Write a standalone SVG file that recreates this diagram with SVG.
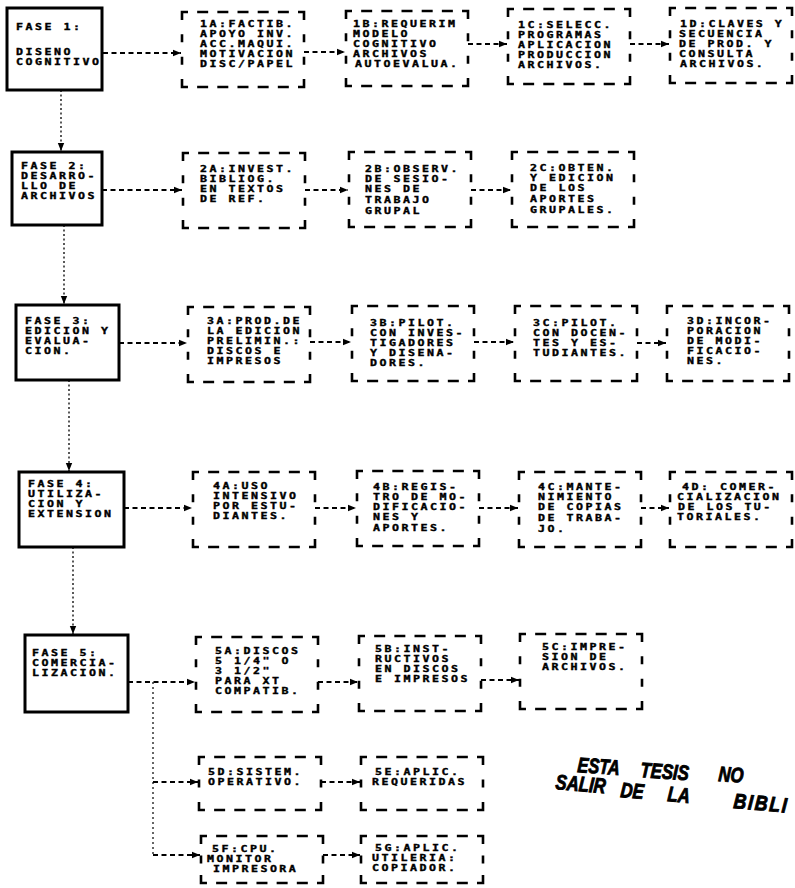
<svg xmlns="http://www.w3.org/2000/svg" width="795" height="888" viewBox="0 0 795 888">
<defs>
<style>
.ph{fill:#fff;stroke:#000;stroke-width:3}
.db{fill:none;stroke:#000;stroke-width:2.6}
.h75{stroke-dasharray:6 9.17 11 9.17 11 9.17 11 9.17 11 9.17 11 9.17 14 14.33 8 14.33 8 14.33 14 9.17 11 9.17 11 9.17 11 9.17 11 9.17 11 9.17 14 14.33 8 14.33 8 14.33 8}
.h53{stroke-dasharray:6 9.17 11 9.17 11 9.17 11 9.17 11 9.17 11 9.17 14 14.5 8 14.5 14 9.17 11 9.17 11 9.17 11 9.17 11 9.17 11 9.17 14 14.5 8 14.5 8}
.h47{stroke-dasharray:6 9.17 11 9.17 11 9.17 11 9.17 11 9.17 11 9.17 14 11.5 8 11.5 14 9.17 11 9.17 11 9.17 11 9.17 11 9.17 11 9.17 14 11.5 8 11.5 8}
.t{font-family:"DejaVu Sans Mono","Liberation Mono",monospace;font-weight:bold;font-size:8.6px;letter-spacing:1.86px;fill:#000;stroke:#000;stroke-width:0.35}
.da{fill:none;stroke:#000;stroke-width:1.8;stroke-dasharray:5 3.5;marker-end:url(#ah)}
.dv{fill:none;stroke:#000;stroke-width:1.3;stroke-dasharray:2 2.5;marker-end:url(#ah)}
.dl{fill:none;stroke:#000;stroke-width:1.2;stroke-dasharray:2 3}
.st{font-family:"Liberation Sans",Arial,sans-serif;font-weight:bold;font-style:italic;font-size:21px;fill:#000;stroke:#000;stroke-width:0.9}
</style>
<marker id="ah" viewBox="0 0 10 10" refX="10" refY="5" markerWidth="8" markerHeight="8" markerUnits="userSpaceOnUse" orient="auto"><path d="M0,1 L10,5 L0,9 z" fill="#000"/></marker>
</defs>
<rect width="795" height="888" fill="#fff"/>

<g id="connectors">
<path class="dv" d="M61,90 V151"/>
<path class="dv" d="M64,225 V304"/>
<path class="dv" d="M69,380 V471"/>
<path class="dv" d="M73,547 V634"/>
<path class="da" d="M103,53 H181"/>
<path class="da" d="M304,52 H345"/>
<path class="da" d="M468,44 H507"/>
<path class="da" d="M630,44 H669"/>
<path class="da" d="M102,190 H182"/>
<path class="da" d="M305,190 H348"/>
<path class="da" d="M471,190 H511"/>
<path class="da" d="M119,343 H187"/>
<path class="da" d="M310,342 H351"/>
<path class="da" d="M474,342 H514"/>
<path class="da" d="M637,343 H666"/>
<path class="da" d="M124,508 H192"/>
<path class="da" d="M315,508 H356"/>
<path class="da" d="M479,508 H518"/>
<path class="da" d="M641,508 H669"/>
<path class="da" d="M128,682 H195"/>
<path class="da" d="M318,682 H358"/>
<path class="da" d="M481,680 H519"/>
<path class="dl" d="M153,682 V855"/>
<path class="da" d="M153,782 H198"/>
<path class="da" d="M321,782 H360"/>
<path class="da" d="M153,855 H200"/>
<path class="da" d="M323,855 H360"/>
</g>

<g id="fase1"><rect class="ph" x="7" y="8" width="95" height="82"/>
<g transform="translate(16,0) scale(1.35,1)"><text class="t"><tspan x="0" y="30">FASE 1:</tspan><tspan x="0" y="55">DISENO</tspan><tspan x="0" y="65">COGNITIVO</tspan></text></g></g>
<g id="n1a"><rect class="db h75" x="182" y="12" width="122" height="75"/>
<g transform="translate(200,0) scale(1.35,1)"><text class="t"><tspan x="0" y="27">1A:FACTIB.</tspan><tspan x="0" y="37">APOYO INV.</tspan><tspan x="0" y="47">ACC.MAQUI.</tspan><tspan x="0" y="57">MOTIVACION</tspan><tspan x="0" y="67">DISC/PAPEL</tspan></text></g></g>
<g id="n1b"><rect class="db h75" x="346" y="11" width="122" height="75"/>
<g transform="translate(353,0) scale(1.35,1)"><text class="t"><tspan x="0" y="27">1B:REQUERIM</tspan><tspan x="0" y="37">MODELO</tspan><tspan x="0" y="47">COGNITIVO</tspan><tspan x="0" y="57">ARCHIVOS</tspan><tspan x="1.5" y="67">AUTOEVALUA.</tspan></text></g></g>
<g id="n1c"><rect class="db h75" x="508" y="9" width="122" height="75"/>
<g transform="translate(518,0) scale(1.35,1)"><text class="t"><tspan x="0" y="28">1C:SELECC.</tspan><tspan x="0" y="38">PROGRAMAS</tspan><tspan x="0" y="48">APLICACION</tspan><tspan x="0" y="58">PRODUCCION</tspan><tspan x="0" y="68">ARCHIVOS.</tspan></text></g></g>
<g id="n1d"><rect class="db h75" x="670" y="8" width="122" height="75"/>
<g transform="translate(679,0) scale(1.35,1)"><text class="t"><tspan x="0.7" y="27">1D:CLAVES Y</tspan><tspan x="0" y="37">SECUENCIA</tspan><tspan x="0" y="47">DE PROD. Y</tspan><tspan x="0" y="57">CONSULTA</tspan><tspan x="0.7" y="67">ARCHIVOS.</tspan></text></g></g>

<g id="fase2"><rect class="ph" x="12" y="152" width="90" height="73"/>
<g transform="translate(21,0) scale(1.35,1)"><text class="t"><tspan x="0" y="169">FASE 2:</tspan><tspan x="0" y="179">DESARRO-</tspan><tspan x="0" y="189">LLO DE</tspan><tspan x="0" y="199">ARCHIVOS</tspan></text></g></g>
<g id="n2a"><rect class="db h75" x="183" y="153" width="122" height="75"/>
<g transform="translate(200,0) scale(1.35,1)"><text class="t"><tspan x="0" y="172">2A:INVEST.</tspan><tspan x="0" y="182">BIBLIOG.</tspan><tspan x="0" y="192">EN TEXTOS</tspan><tspan x="0" y="202">DE REF.</tspan></text></g></g>
<g id="n2b"><rect class="db h75" x="349" y="152" width="122" height="75"/>
<g transform="translate(365,0) scale(1.35,1)"><text class="t"><tspan x="0" y="172">2B:OBSERV.</tspan><tspan x="0" y="182">DE SESIO-</tspan><tspan x="0" y="192.5">NES DE</tspan><tspan x="0" y="203.5">TRABAJO</tspan><tspan x="0" y="214">GRUPAL</tspan></text></g></g>
<g id="n2c"><rect class="db h75" x="512" y="152" width="122" height="75"/>
<g transform="translate(530,0) scale(1.35,1)"><text class="t"><tspan x="0" y="171">2C:OBTEN.</tspan><tspan x="0" y="181">Y EDICION</tspan><tspan x="0" y="191.5">DE LOS</tspan><tspan x="0" y="202">APORTES</tspan><tspan x="0" y="213">GRUPALES.</tspan></text></g></g>

<g id="fase3"><rect class="ph" x="16" y="305" width="103" height="75"/>
<g transform="translate(25,0) scale(1.35,1)"><text class="t"><tspan x="0" y="324">FASE 3:</tspan><tspan x="0" y="334">EDICION Y</tspan><tspan x="0" y="344">EVALUA-</tspan><tspan x="0" y="354">CION.</tspan></text></g></g>
<g id="n3a"><rect class="db h75" x="188" y="307" width="122" height="75"/>
<g transform="translate(207,0) scale(1.35,1)"><text class="t"><tspan x="0" y="324">3A:PROD.DE</tspan><tspan x="0" y="334">LA EDICION</tspan><tspan x="0" y="344">PRELIMIN.:</tspan><tspan x="0" y="354">DISCOS E</tspan><tspan x="0" y="364">IMPRESOS</tspan></text></g></g>
<g id="n3b"><rect class="db h75" x="352" y="306" width="122" height="75"/>
<g transform="translate(370,0) scale(1.35,1)"><text class="t"><tspan x="0" y="326">3B:PILOT.</tspan><tspan x="0" y="336">CON INVES-</tspan><tspan x="0" y="346">TIGADORES</tspan><tspan x="0" y="356">Y DISENA-</tspan><tspan x="0" y="366.5">DORES.</tspan></text></g></g>
<g id="n3c"><rect class="db h75" x="515" y="306" width="122" height="75"/>
<g transform="translate(533,0) scale(1.35,1)"><text class="t"><tspan x="0" y="326">3C:PILOT.</tspan><tspan x="0" y="336">CON DOCEN-</tspan><tspan x="0" y="346">TES Y ES-</tspan><tspan x="0" y="356.5">TUDIANTES.</tspan></text></g></g>
<g id="n3d"><rect class="db h75" x="667" y="306" width="122" height="75"/>
<g transform="translate(687,0) scale(1.35,1)"><text class="t"><tspan x="0" y="324">3D:INCOR-</tspan><tspan x="0" y="334">PORACION</tspan><tspan x="0" y="344">DE MODI-</tspan><tspan x="0" y="354">FICACIO-</tspan><tspan x="0" y="364">NES.</tspan></text></g></g>

<g id="fase4"><rect class="ph" x="19" y="472" width="105" height="75"/>
<g transform="translate(28,0) scale(1.35,1)"><text class="t"><tspan x="0" y="487">FASE 4:</tspan><tspan x="0" y="497">UTILIZA-</tspan><tspan x="0" y="507">CION Y</tspan><tspan x="0" y="517">EXTENSION</tspan></text></g></g>
<g id="n4a"><rect class="db h75" x="193" y="472" width="122" height="75"/>
<g transform="translate(213,0) scale(1.35,1)"><text class="t"><tspan x="0" y="489">4A:USO</tspan><tspan x="0" y="499">INTENSIVO</tspan><tspan x="0" y="509">POR ESTU-</tspan><tspan x="0" y="519">DIANTES.</tspan></text></g></g>
<g id="n4b"><rect class="db h75" x="357" y="471" width="122" height="75"/>
<g transform="translate(373,0) scale(1.35,1)"><text class="t"><tspan x="0" y="490">4B:REGIS-</tspan><tspan x="0" y="500">TRO DE MO-</tspan><tspan x="0" y="510">DIFICACIO-</tspan><tspan x="0" y="520.5">NES Y</tspan><tspan x="0" y="531.5">APORTES.</tspan></text></g></g>
<g id="n4c"><rect class="db h75" x="519" y="472" width="122" height="75"/>
<g transform="translate(538,0) scale(1.35,1)"><text class="t"><tspan x="0" y="490">4C:MANTE-</tspan><tspan x="0" y="500">NIMIENTO</tspan><tspan x="0" y="510.5">DE COPIAS</tspan><tspan x="0" y="521">DE TRABA-</tspan><tspan x="0" y="532">JO.</tspan></text></g></g>
<g id="n4d"><rect class="db h75" x="670" y="472" width="122" height="75"/>
<g transform="translate(677,0) scale(1.35,1)"><text class="t"><tspan x="3.7" y="490">4D: COMER-</tspan><tspan x="0" y="500">CIALIZACION</tspan><tspan x="0.7" y="510">DE LOS TU-</tspan><tspan x="0" y="520.5">TORIALES.</tspan></text></g></g>

<g id="fase5"><rect class="ph" x="25" y="635" width="103" height="77"/>
<g transform="translate(32,0) scale(1.35,1)"><text class="t"><tspan x="0" y="656">FASE 5:</tspan><tspan x="0" y="666">COMERCIA-</tspan><tspan x="0" y="676">LIZACION.</tspan></text></g></g>
<g id="n5a"><rect class="db h75" x="196" y="637" width="122" height="75"/>
<g transform="translate(215,0) scale(1.35,1)"><text class="t"><tspan x="0" y="654">5A:DISCOS</tspan><tspan x="0" y="664">5 1/4" O</tspan><tspan x="0" y="674">3 1/2"</tspan><tspan x="0" y="684">PARA XT</tspan><tspan x="0" y="694">COMPATIB.</tspan></text></g></g>
<g id="n5b"><rect class="db h75" x="359" y="636" width="122" height="75"/>
<g transform="translate(375,0) scale(1.35,1)"><text class="t"><tspan x="0" y="652">5B:INST-</tspan><tspan x="0" y="662">RUCTIVOS</tspan><tspan x="0" y="672">EN DISCOS</tspan><tspan x="0" y="682">E IMPRESOS</tspan></text></g></g>
<g id="n5c"><rect class="db h75" x="520" y="634" width="122" height="75"/>
<g transform="translate(542,0) scale(1.35,1)"><text class="t"><tspan x="0" y="650">5C:IMPRE-</tspan><tspan x="0" y="660">SION DE</tspan><tspan x="0" y="670">ARCHIVOS.</tspan></text></g></g>
<g id="n5d"><rect class="db h53" x="199" y="757" width="122" height="53"/>
<g transform="translate(208,0) scale(1.35,1)"><text class="t"><tspan x="0" y="775">5D:SISTEM.</tspan><tspan x="0" y="785">OPERATIVO.</tspan></text></g></g>
<g id="n5e"><rect class="db h53" x="361" y="757" width="122" height="53"/>
<g transform="translate(372,0) scale(1.35,1)"><text class="t"><tspan x="2.2" y="775">5E:APLIC.</tspan><tspan x="0" y="785">REQUERIDAS</tspan></text></g></g>
<g id="n5f"><rect class="db h47" x="201" y="836" width="122" height="47"/>
<g transform="translate(207,0) scale(1.35,1)"><text class="t"><tspan x="3.7" y="852">5F:CPU.</tspan><tspan x="0" y="862">MONITOR</tspan><tspan x="4.4" y="872">IMPRESORA</tspan></text></g></g>
<g id="n5g"><rect class="db h47" x="361" y="836" width="122" height="47"/>
<g transform="translate(372,0) scale(1.35,1)"><text class="t"><tspan x="2.2" y="851">5G:APLIC.</tspan><tspan x="0" y="861">UTILERIA:</tspan><tspan x="0" y="871">COPIADOR.</tspan></text></g></g>

<g id="stamp">
<text class="st" transform="translate(577,772) rotate(4) scale(0.78,1)">ESTA</text>
<text class="st" transform="translate(640,777) rotate(4) scale(0.8,1)">TESIS</text>
<text class="st" transform="translate(718,781) rotate(4) scale(0.8,1)">NO</text>
<text class="st" transform="translate(555,789) rotate(5) scale(0.8,1)">SALIR</text>
<text class="st" transform="translate(620,797) rotate(5) scale(0.8,1)">DE</text>
<text class="st" transform="translate(667,801) rotate(5) scale(0.8,1)">LA</text>
<text class="st" transform="translate(733,808) rotate(5) scale(0.85,1)" letter-spacing="2">BIBLI</text>
</g>
</svg>
